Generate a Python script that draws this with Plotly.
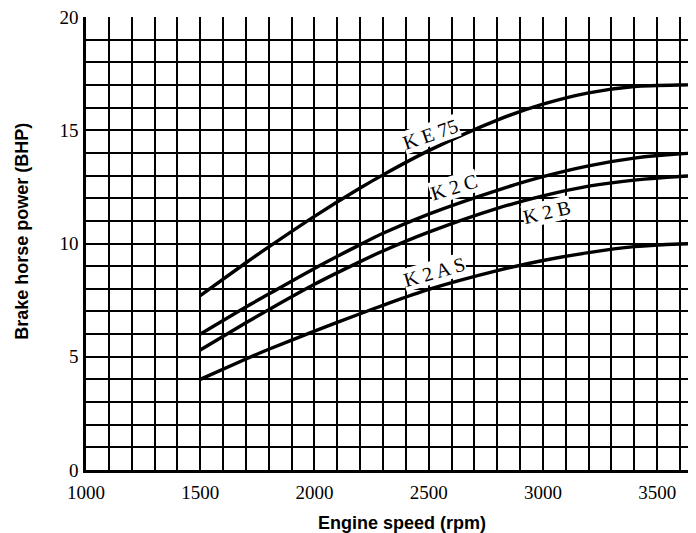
import plotly.graph_objects as go

rpm = [1500, 1700, 1800, 2000, 2200, 2300, 2500, 2800, 3000, 3200, 3400, 3600, 3700]
ke75 = [7.7, 9.15, 9.85, 11.2, 12.45, 13.03, 14.1, 15.45, 16.15, 16.65, 16.93, 17.0, 17.0]
k2c = [6.0, 7.2, 7.77, 8.9, 9.95, 10.45, 11.3, 12.35, 12.95, 13.43, 13.77, 13.96, 14.0]
k2b = [5.3, 6.5, 7.08, 8.2, 9.2, 9.67, 10.5, 11.55, 12.1, 12.53, 12.8, 12.96, 13.0]
k2as = [4.0, 4.9, 5.33, 6.13, 6.9, 7.27, 7.97, 8.8, 9.25, 9.6, 9.86, 9.98, 10.0]

series = [("K E 75", ke75), ("K 2 C", k2c), ("K 2 B", k2b), ("K 2 A S", k2as)]
label_pos = [(2510, 14.83, -19), (2611, 12.5, -17), (3016, 11.37, -13), (2524, 8.72, -16)]

x_ticks = [1000, 1500, 2000, 2500, 3000, 3500]
y_ticks = [0, 5, 10, 15, 20]

fig = go.Figure()
for name, vals in series:
    fig.add_trace(go.Scatter(x=rpm, y=vals, mode="lines", name=name,
                             line=dict(color="black", width=3.4, shape="spline", smoothing=0.8),
                             showlegend=False))

serif = "Liberation Serif"
for (name, _), (lx, ly, ang) in zip(series, label_pos):
    fig.add_annotation(x=lx, y=ly, text=name, showarrow=False, textangle=ang,
                       font=dict(family=serif, size=20, color="black"),
                       bgcolor="white", borderpad=0)

fig.add_annotation(xref="paper", yref="paper", x=0.518, y=-0.117,
                   text="<b>Engine speed (rpm)</b>", showarrow=False,
                   font=dict(family="Liberation Sans", size=18, color="black"),
                   xanchor="center", yanchor="middle")
fig.add_annotation(xref="paper", yref="paper", x=-0.1054, y=0.5276,
                   text="<b>Brake horse power (BHP)</b>", showarrow=False, textangle=-90,
                   font=dict(family="Liberation Sans", size=18, color="black"),
                   xanchor="center", yanchor="middle")

fig.update_xaxes(range=[1000, 3670], tickvals=x_ticks, ticktext=[str(v) for v in x_ticks],
                 showgrid=True, gridcolor="black", gridwidth=2.2,
                 minor=dict(dtick=100, showgrid=True, gridcolor="black", gridwidth=2.2),
                 showline=True, linecolor="black", linewidth=2.5, zeroline=False,
                 ticks="", ticklabelstandoff=3, ticklabeloverflow="allow",
                 tickfont=dict(family=serif, size=19, color="black"))
fig.update_yaxes(range=[0, 20], tickvals=y_ticks, ticktext=[str(v) for v in y_ticks],
                 showgrid=True, gridcolor="black", gridwidth=2.2,
                 minor=dict(dtick=1, showgrid=True, gridcolor="black", gridwidth=2.2),
                 showline=True, linecolor="black", linewidth=2.5, zeroline=False,
                 ticks="", ticklabelstandoff=1, ticklabeloverflow="allow",
                 tickfont=dict(family=serif, size=19, color="black"))

fig.update_layout(width=688, height=525, margin=dict(l=78, r=0, t=9, b=63),
                  plot_bgcolor="white", paper_bgcolor="white")
fig.write_html("out.html")
